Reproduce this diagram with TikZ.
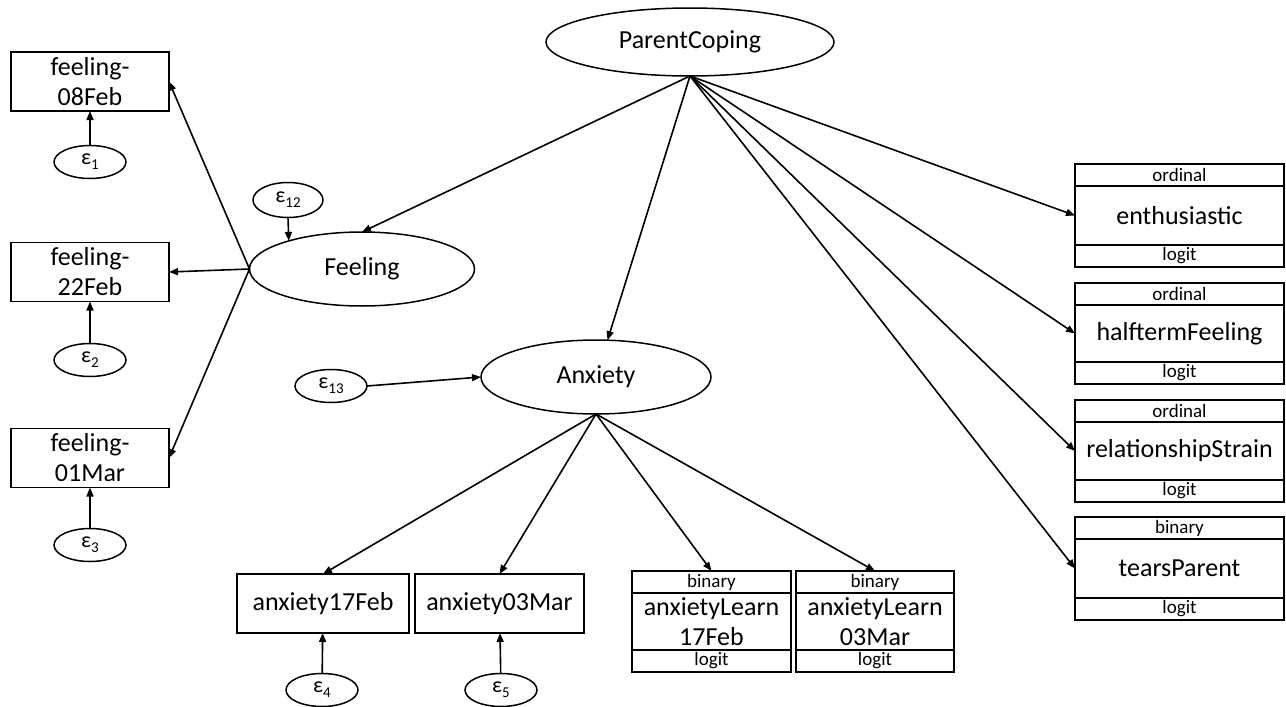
\documentclass[tikz,border=0pt]{standalone}
\usepackage{fontspec}
\setmainfont{Carlito}
\usetikzlibrary{shapes.geometric, arrows.meta, positioning}
\newcommand{\epsl}[1]{ε\raisebox{-0.45ex}{\fontsize{15}{15}\selectfont #1}}
\tikzset{
  latent/.style={ellipse, draw, line width=1.5pt, inner sep=0pt, outer sep=0pt, font=\fontsize{26}{30}\selectfont},
  errvar/.style={ellipse, draw, line width=1.5pt, minimum width=72pt, minimum height=33pt, inner sep=0pt, outer sep=0pt, font=\fontsize{22}{26}\selectfont},
  obs/.style={rectangle, draw, line width=1.5pt, inner sep=0pt, outer sep=0pt, align=center, font=\fontsize{26}{30}\selectfont},
  tag/.style={rectangle, draw, line width=1.5pt, inner sep=0pt, outer sep=0pt, minimum height=22pt, font=\fontsize{19}{19}\selectfont},
  arr/.style={-{Triangle[length=9pt,width=7pt]}, line width=1.6pt},
}

\begin{document}
\begin{tikzpicture}[x=1pt, y=-1pt]
\useasboundingbox (0,0) rectangle (1286,707);
\node[latent, minimum width=288pt, minimum height=68pt] (pc) at (690,42) {ParentCoping};
\node[latent, minimum width=225pt, minimum height=74pt] (feel) at (362,269) {Feeling};
\node[latent, minimum width=230pt, minimum height=74pt] (anx) at (596,377) {Anxiety};

\node[obs, minimum width=158pt, minimum height=59pt] (f08) at (90,81.5) {feeling-\\08Feb};
\node[obs, minimum width=158pt, minimum height=59pt] (f22) at (90,272) {feeling-\\22Feb};
\node[obs, minimum width=158pt, minimum height=59pt] (f01) at (90,458) {feeling-\\01Mar};
\node[errvar] (e1) at (90,162) {\epsl{1}};
\node[errvar] (e2) at (90,360) {\epsl{2}};
\node[errvar] (e3) at (90,545) {\epsl{3}};
\node[errvar, minimum width=70pt, minimum height=35pt] (e12) at (288,200) {\epsl{12}};
\node[errvar] (e13) at (331,386) {\epsl{13}};

\node[obs, minimum width=172pt, minimum height=59pt] (a17) at (323,603.5) {anxiety17Feb};
\node[obs, minimum width=169pt, minimum height=59pt] (a03) at (499.5,603.5) {anxiety03Mar};
\node[errvar] (e4) at (322,690) {\epsl{4}};
\node[errvar] (e5) at (501,690) {\epsl{5}};

\node[obs, minimum width=159pt, minimum height=57pt] (al17) at (711.5,621.5) {anxietyLearn\\17Feb};
\node[tag, minimum width=159pt, above=0pt of al17] (al17-t) {binary};
\node[tag, minimum width=159pt, below=0pt of al17] (al17-b) {logit};
\node[obs, minimum width=158pt, minimum height=57pt] (al03) at (875,621.5) {anxietyLearn\\03Mar};
\node[tag, minimum width=158pt, above=0pt of al03] (al03-t) {binary};
\node[tag, minimum width=158pt, below=0pt of al03] (al03-b) {logit};

\node[obs, minimum width=209pt, minimum height=59pt] (enth) at (1179.5,215.5) {enthusiastic};
\node[tag, minimum width=209pt, above=0pt of enth] (enth-t) {ordinal};
\node[tag, minimum width=209pt, below=0pt of enth] (enth-b) {logit};
\node[obs, minimum width=209pt, minimum height=57pt] (half) at (1179.5,333.5) {halftermFeeling};
\node[tag, minimum width=209pt, above=0pt of half] (half-t) {ordinal};
\node[tag, minimum width=209pt, below=0pt of half] (half-b) {logit};
\node[obs, minimum width=209pt, minimum height=58pt] (rel) at (1179.5,451) {relationshipStrain};
\node[tag, minimum width=209pt, above=0pt of rel] (rel-t) {ordinal};
\node[tag, minimum width=209pt, below=0pt of rel] (rel-b) {logit};
\node[obs, minimum width=209pt, minimum height=59pt] (tears) at (1179.5,568.5) {tearsParent};
\node[tag, minimum width=209pt, above=0pt of tears] (tears-t) {binary};
\node[tag, minimum width=209pt, below=0pt of tears] (tears-b) {logit};

\draw[arr](pc.south)--(feel.north);
\draw[arr](pc.south)--(anx);
\draw[arr](pc.south)--(enth.west);
\draw[arr](pc.south)--(half.west);
\draw[arr](pc.south)--(rel.west);
\draw[arr](pc.south)--(tears.west);
\draw[arr](feel.west)--(f08.east);
\draw[arr](feel.west)--(f22.east);
\draw[arr](feel.west)--(f01.east);
\draw[arr](e1)--(f08);
\draw[arr](e2)--(f22);
\draw[arr](e3)--(f01);
\draw[arr](e12.south)--(feel.159);
\draw[arr](e13.east)--(anx.west);
\draw[arr](anx.south)--(a17.north);
\draw[arr](anx.south)--(a03.north);
\draw[arr](anx.south)--(al17-t.north);
\draw[arr](anx.south)--(al03-t.north);
\draw[arr](e4)--(a17);
\draw[arr](e5)--(a03);
\end{tikzpicture}
\end{document}
